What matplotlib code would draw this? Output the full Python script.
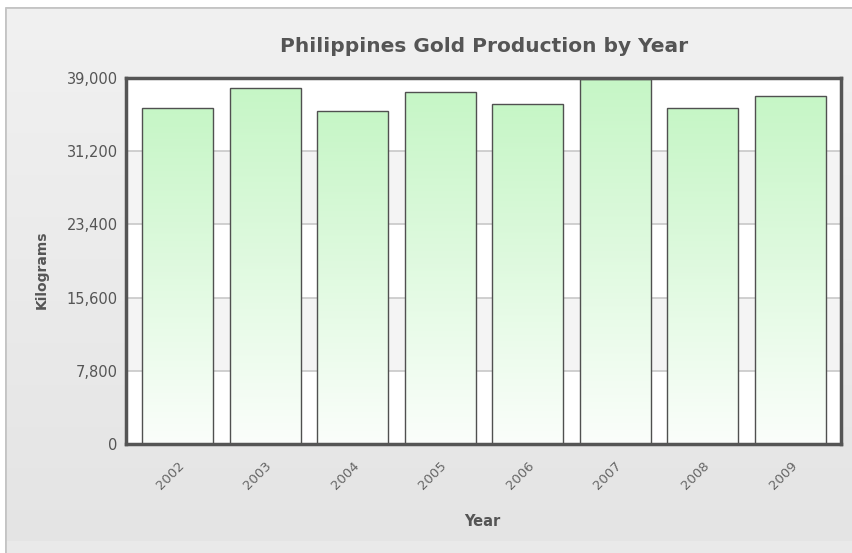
import matplotlib
matplotlib.use("Agg")
import matplotlib.pyplot as plt
import numpy as np
from matplotlib.colors import LinearSegmentedColormap
from matplotlib.ticker import FuncFormatter

years = ["2002", "2003", "2004", "2005", "2006", "2007", "2008", "2009"]
production = [35840, 37900, 35500, 37540, 36190, 38860, 35770, 37040]
yticks = [0, 7800, 15600, 23400, 31200, 39000]

W, H = 853, 553
fig = plt.figure(figsize=(W / 100, H / 100), dpi=100)
fig.patch.set_facecolor("white")

# background panel with vertical gradient
bg = fig.add_axes([5 / W, 0, 1 - 5 / W, 1 - 7 / H])
bg.set_axis_off()
grad = np.linspace(0, 1, 256).reshape(-1, 1)
bg_cmap = LinearSegmentedColormap.from_list("bg", ["#f1f1f1", "#e4e4e4"])
bg.imshow(grad, aspect="auto", cmap=bg_cmap, extent=[0, 1, 0, 1], origin="upper")
bg.axhspan(0, 12 / 546, color="#e9e9e9", lw=0)
bg.set_xlim(0, 1)
bg.set_ylim(0, 1)
bg.plot([0, 0], [0, 1], color="#c4c4c4", lw=2.0, solid_capstyle="butt")
bg.plot([0, 1], [1, 1], color="#c4c4c4", lw=2.0, solid_capstyle="butt")

left, right, top, bottom = 126, 841, 78, 444
ax = fig.add_axes([left / W, 1 - bottom / H, (right - left) / W, (bottom - top) / H])
ax.set_facecolor("white")

# alternating bands
for i in range(len(yticks) - 1):
    if i % 2 == 1:
        ax.axhspan(yticks[i], yticks[i + 1], color="#f4f4f4", lw=0, zorder=0)
for yv in yticks[1:-1]:
    ax.axhline(yv, color="#c8c8c8", lw=1.2, zorder=1)

bar_cmap = LinearSegmentedColormap.from_list("bar", ["#fbfefb", "#c6f6c6"])
x = np.arange(len(years))
bars = ax.bar(x, production, width=0.81, facecolor="none", edgecolor="#505050",
              linewidth=1.0, zorder=3)
for b in bars:
    x0, w, h = b.get_x(), b.get_width(), b.get_height()
    im = ax.imshow(grad, aspect="auto", cmap=bar_cmap,
                   extent=[x0, x0 + w, 0, h], origin="lower", zorder=2)
    im.set_clip_path(b)
ax.set_xlim(-0.59, len(years) - 1 + 0.58)
ax.set_ylim(0, 39000)

for s in ax.spines.values():
    s.set_color("#555555")
    s.set_linewidth(2.5)
    s.set_zorder(5)

ax.set_yticks(yticks)
ax.yaxis.set_major_formatter(FuncFormatter(lambda v, p: f"{int(v):,}"))
ax.tick_params(axis="y", length=0, pad=6, labelsize=10.5, labelcolor="#555555")
ax.set_xticks(x)
ax.set_xticklabels(years, rotation=45, ha="right", rotation_mode="anchor",
                   fontsize=9.5, color="#666666")
ax.tick_params(axis="x", length=0, pad=11)

fig.text(484 / W, 1 - 47 / H, "Philippines Gold Production by Year", ha="center",
         va="center", fontsize=14.5, fontweight="bold", color="#555555")
fig.text(42 / W, 1 - 270 / H, "Kilograms", rotation=90, ha="center", va="center",
         fontsize=10, fontweight="bold", color="#555555")
fig.text(482 / W, 1 - 522 / H, "Year", ha="center", va="center",
         fontsize=10.5, fontweight="bold", color="#555555")

fig.savefig("out.png", dpi=100)
